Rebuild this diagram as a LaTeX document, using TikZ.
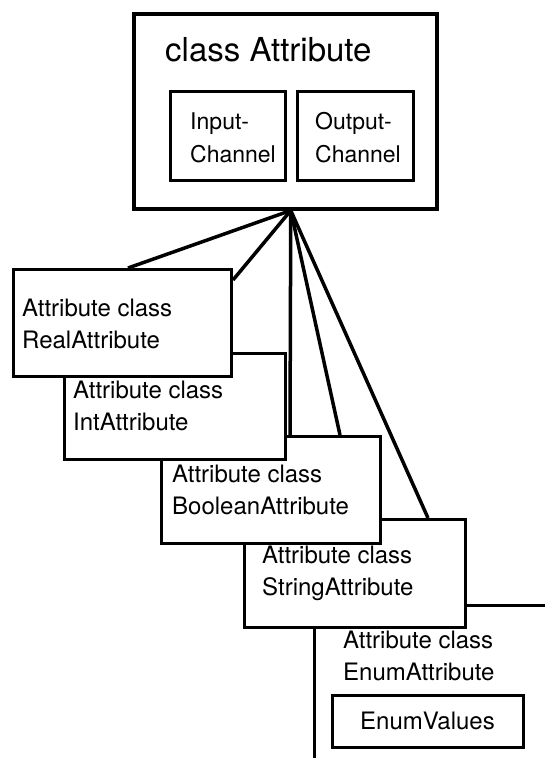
\documentclass[tikz,border=0pt]{standalone}
\usepackage{fontspec}
\setmainfont{TeX Gyre Heros}
\begin{document}
\begin{tikzpicture}[x=1pt,y=-1pt,
  box/.style={draw, line width=3pt, fill=white, inner sep=0pt, anchor=north west},
  txt/.style={anchor=west, align=left, inner sep=0pt, font=\fontsize{24}{32}\selectfont},
  chtxt/.style={anchor=west, align=left, inner sep=0pt, font=\fontsize{23}{33}\selectfont},
  link/.style={line width=3.5pt}]
\useasboundingbox (0,0) rectangle (545,758);
\clip (0,0) rectangle (545,758);

% base class with its two channels
\node[box, line width=3.5pt, minimum width=303pt, minimum height=195pt] (attr) at (132,12) {};
\node[anchor=west, inner sep=0pt, font=\fontsize{33}{40}\selectfont] (attrtitle) at (165,50) {class Attribute};
\node[box, minimum width=115pt, minimum height=89pt] (inch) at (169,90) {};
\node[chtxt] (inchtxt) at (190,138) {Input-\\Channel};
\node[box, minimum width=116pt, minimum height=89pt] (outch) at (296,90) {};
\node[chtxt] (outchtxt) at (315,138) {Output-\\Channel};
\coordinate (apex) at ([xshift=5.5pt]attr.south);

% derived classes, stacked back to front
\node[box, minimum width=300pt, minimum height=200pt] (enum) at (313,604) {};
\node[txt] (enumtxt) at (343,656) {Attribute class\\EnumAttribute};
\node[box, anchor=center, minimum width=191pt, minimum height=52pt,
      font=\fontsize{24}{32}\selectfont] (enumvals) at (427.5,721) {EnumValues};

\node[box, minimum width=221pt, minimum height=108pt] (str) at (243,518) {};
\node[txt] (strtxt) at (262,573) {Attribute class\\StringAttribute};

\node[box, minimum width=219pt, minimum height=107pt] (bool) at (160,435) {};
\node[txt] (booltxt) at (172,489.5) {Attribute class\\BooleanAttribute};

\node[box, minimum width=221pt, minimum height=106pt] (int) at (63,352) {};
\node[txt] (inttxt) at (73,406) {Attribute class\\IntAttribute};

\node[box, minimum width=218pt, minimum height=107pt] (real) at (12,268) {};
\node[txt] (realtxt) at (22,324) {Attribute class\\RealAttribute};

% inheritance links fanning out from the base class
\draw[link] (apex) -- ([xshift=116pt]real.north west);
\draw[link] (apex) -- ([yshift=-12pt]real.north east);
\draw[link] (apex) -- ([xshift=130pt]bool.north west);
\draw[link] (apex) -- ([xshift=180pt]bool.north west);
\draw[link] (apex) -- ([xshift=185pt]str.north west);
\end{tikzpicture}
\end{document}
